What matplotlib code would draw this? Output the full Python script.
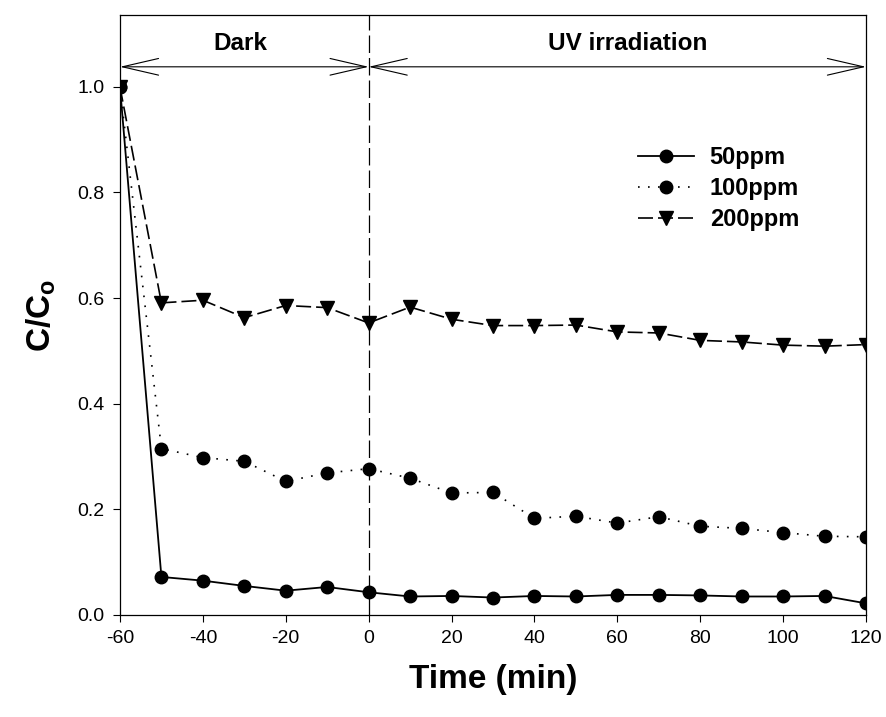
import matplotlib
matplotlib.use("Agg")
import matplotlib.pyplot as plt

plt.rcParams['font.family'] = ['Liberation Sans', 'DejaVu Sans']

time = [-60, -50, -40, -30, -20, -10, 0, 10, 20, 30, 40, 50, 60, 70, 80, 90, 100, 110, 120]
c50 = [1.0, 0.072, 0.065, 0.055, 0.046, 0.053, 0.043, 0.035, 0.036, 0.033, 0.036, 0.035, 0.038, 0.038, 0.037, 0.035, 0.035, 0.036, 0.022]
c100 = [1.0, 0.315, 0.298, 0.291, 0.253, 0.269, 0.277, 0.259, 0.231, 0.232, 0.183, 0.187, 0.174, 0.186, 0.168, 0.164, 0.156, 0.149, 0.148]
c200 = [1.0, 0.591, 0.596, 0.563, 0.586, 0.582, 0.553, 0.583, 0.560, 0.548, 0.548, 0.549, 0.536, 0.534, 0.520, 0.517, 0.511, 0.509, 0.512]
labels = ["50ppm", "100ppm", "200ppm"]
x_ticks = [-60, -40, -20, 0, 20, 40, 60, 80, 100, 120]
y_ticks = [0.0, 0.2, 0.4, 0.6, 0.8, 1.0]

fig = plt.figure(figsize=(8.86, 7.17), dpi=100)
ax = fig.add_axes([0.1354, 0.1423, 0.9774 - 0.1354, 0.979 - 0.1423])

l3, = ax.plot(time, c200, color='black', linestyle=(0, (9, 3)), lw=1.2,
              marker='v', markersize=9.5, label=labels[2], zorder=3)
l2, = ax.plot(time, c100, color='black', linestyle=(0, (1, 5)), lw=1.2,
              marker='o', markersize=9, label=labels[1], zorder=4)
l1, = ax.plot(time, c50, color='black', linestyle='-', lw=1.3,
              marker='o', markersize=9, label=labels[0], zorder=5)

ax.set_xlim(-60, 120)
ax.set_ylim(0, 1.136)
ax.set_xticks(x_ticks)
ax.set_xticklabels([str(v) for v in x_ticks])
ax.set_yticks(y_ticks)
ax.set_yticklabels([f"{v:.1f}" for v in y_ticks])
ax.tick_params(direction='out', length=5, width=0.8, labelsize=14, pad=6)
for s in ax.spines.values():
    s.set_linewidth(0.9)

# vertical divider at t = 0
ax.axvline(0, color='black', lw=0.9, linestyle=(0, (14, 4)), zorder=2)

# period arrows
ya = 1.038
for x0, x1 in [(-60, 0), (0, 120)]:
    ax.annotate('', xy=(x1, ya), xytext=(x0, ya),
                arrowprops=dict(arrowstyle='<->,head_length=2.6,head_width=0.6',
                                mutation_scale=10, lw=0.8, color='black',
                                shrinkA=0, shrinkB=0))
ax.text(-31, 1.082, 'Dark', ha='center', va='center', fontsize=17.5, fontweight='bold')
ax.text(62.5, 1.082, 'UV irradiation', ha='center', va='center', fontsize=17.5, fontweight='bold')

ax.set_xlabel('Time (min)', fontsize=24, fontweight='bold', labelpad=12)
ax.set_ylabel(r'C/C$_\mathregular{o}$', fontsize=24, fontweight='bold', labelpad=14)

leg = ax.legend(handles=[l1, l2, l3], loc='upper left', bbox_to_anchor=(0.694, 0.782),
                frameon=False, fontsize=17, handlelength=2.4, handletextpad=0.65,
                labelspacing=0.35, borderpad=0, borderaxespad=0)
for t in leg.get_texts():
    t.set_fontweight('bold')

fig.savefig('out.png', dpi=100)
